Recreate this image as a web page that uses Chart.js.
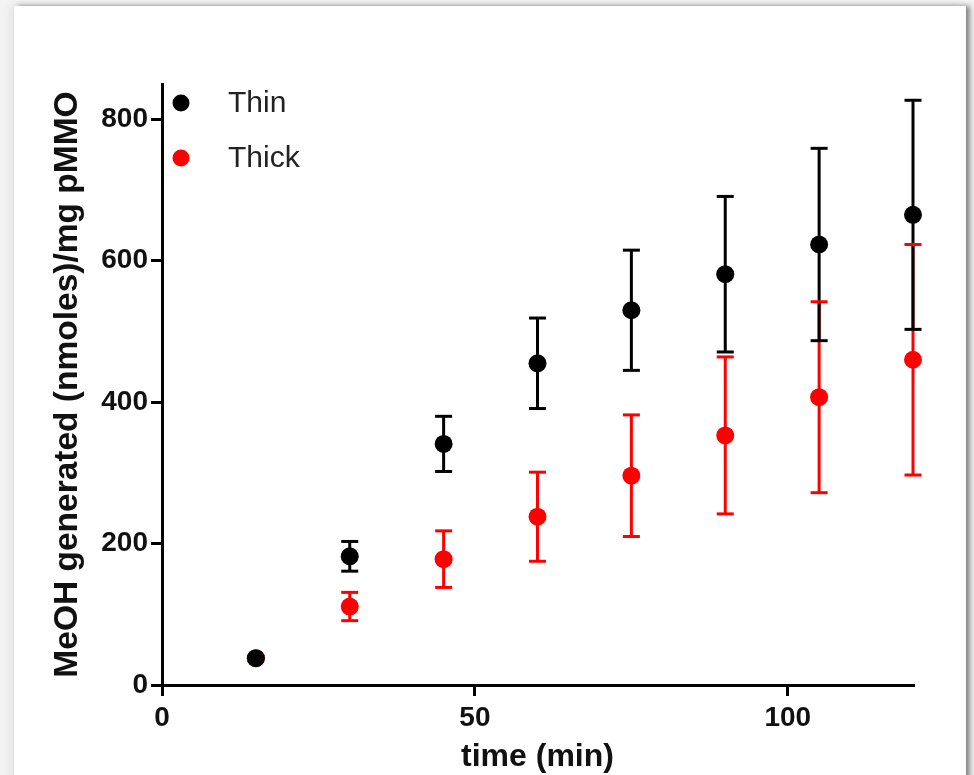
<!DOCTYPE html>
<html><head><meta charset="utf-8">
<script src="https://cdn.jsdelivr.net/npm/chart.js@4.4.1/dist/chart.umd.min.js"></script>
<style>
html,body{margin:0;padding:0;width:974px;height:775px;overflow:hidden;background:#f3f3f3;}
#card{position:absolute;left:14px;top:6px;width:952px;height:800px;background:#fff;box-shadow:4px 0 5px rgba(0,0,0,0.45), -4px -2px 8px rgba(0,0,0,0.06);}
#wrap{position:absolute;left:0;top:0;width:974px;height:775px;}
</style></head><body>
<div id="card"></div>
<div id="wrap"><canvas id="c" width="974" height="775"></canvas></div>
<script>
const times = [15, 30, 45, 60, 75, 90, 105, 120];
const thinMean = [38, 182, 341, 455, 530, 581, 623, 665];
const thinErr = [0, 21, 39, 64, 85, 110, 136, 162];
const thickMean = [38, 111, 178, 238, 296, 353, 407, 460];
const thickErr = [0, 20, 40, 63, 86, 111, 135, 163];
const xTicks = [0, 50, 100];
const yTicks = [0, 200, 400, 600, 800];
const seriesLabels = ['Thin', 'Thick'];
const seriesColors = ['#000000', '#ff0000'];

const FONT = "'Liberation Sans', Arial, sans-serif";

const errorBars = {
  id: 'errorBars',
  beforeDatasetsDraw(chart) {
    const ctx = chart.ctx, xs = chart.scales.x, ys = chart.scales.y;
    const sets = [
      {m: thickMean, e: thickErr, c: seriesColors[1]},
      {m: thinMean, e: thinErr, c: seriesColors[0]}
    ];
    ctx.save();
    ctx.lineWidth = 3;
    ctx.lineCap = 'butt';
    sets.forEach(s => {
      ctx.strokeStyle = s.c;
      times.forEach((t, i) => {
        if (!s.e[i]) return;
        const x = xs.getPixelForValue(t);
        ctx.beginPath();
        ctx.moveTo(x, ys.getPixelForValue(s.m[i] + s.e[i]));
        ctx.lineTo(x, ys.getPixelForValue(s.m[i] - s.e[i]));
        ctx.stroke();
      });
    });
    sets.forEach(s => {
      ctx.strokeStyle = s.c;
      times.forEach((t, i) => {
        if (!s.e[i]) return;
        const x = xs.getPixelForValue(t);
        [s.m[i] + s.e[i], s.m[i] - s.e[i]].forEach(v => {
          const y = ys.getPixelForValue(v);
          ctx.beginPath();
          ctx.moveTo(x - 8.5, y);
          ctx.lineTo(x + 8.5, y);
          ctx.stroke();
        });
      });
    });
    ctx.restore();
  }
};

const legendIn = {
  id: 'legendIn',
  afterDraw(chart) {
    const ctx = chart.ctx, ca = chart.chartArea;
    ctx.save();
    seriesLabels.forEach((lab, i) => {
      const y = ca.top + 19 + i * 55;
      ctx.fillStyle = seriesColors[i];
      ctx.beginPath();
      ctx.arc(ca.left + 19, y, 8.5, 0, Math.PI * 2);
      ctx.fill();
      ctx.fillStyle = '#222';
      ctx.font = "30px " + FONT;
      ctx.textBaseline = 'middle';
      ctx.textAlign = 'left';
      ctx.fillText(lab, ca.left + 66, y + 1);
    });
    ctx.restore();
  }
};

const tickFont = {family: FONT, weight: 'bold', size: 28};

new Chart(document.getElementById('c'), {
  type: 'scatter',
  data: {
    datasets: [
      {label: seriesLabels[0], data: times.map((t, i) => ({x: t, y: thinMean[i]})), clip: false,
       pointRadius: 9, pointBackgroundColor: seriesColors[0], pointBorderWidth: 0, showLine: false},
      {label: seriesLabels[1], data: times.map((t, i) => ({x: t, y: thickMean[i]})), clip: false,
       pointRadius: 9, pointBackgroundColor: seriesColors[1], pointBorderWidth: 0, showLine: false}
    ]
  },
  options: {
    responsive: false,
    animation: false,
    devicePixelRatio: 1,
    layout: {padding: {left: 0, right: 61, top: 84, bottom: 0}},
    plugins: {legend: {display: false}, tooltip: {enabled: false}},
    scales: {
      x: {
        type: 'linear', min: 0, max: 120,
        afterBuildTicks(s) { s.ticks = xTicks.map(v => ({value: v})); },
        afterFit(s) { s.height = 90; },
        grid: {display: true, drawOnChartArea: false, drawTicks: true, tickLength: 11, lineWidth: 3, color: '#000'},
        border: {display: true, color: '#000', width: 3},
        ticks: {color: '#111', font: tickFont, padding: 5, maxRotation: 0, autoSkip: false},
        title: {display: true, text: 'time (min)', color: '#111',
                font: {family: FONT, weight: 'bold', size: 32, lineHeight: 1}, padding: {top: 0, bottom: 2}}
      },
      y: {
        type: 'linear', min: 0, max: 850,
        afterBuildTicks(s) { s.ticks = yTicks.map(v => ({value: v})); },
        afterFit(s) { s.width = 162; },
        grid: {display: true, drawOnChartArea: false, drawTicks: true, tickLength: 11, lineWidth: 3, color: '#000'},
        border: {display: true, color: '#000', width: 3},
        ticks: {color: '#111', font: tickFont, padding: 3, autoSkip: false},
        title: {display: true, text: 'MeOH generated (nmoles)/mg pMMO', color: '#111',
                font: {family: FONT, weight: 'bold', size: 33.5, lineHeight: 1}, padding: {top: 51, bottom: 0}}
      }
    }
  },
  plugins: [errorBars, legendIn]
});
</script>
</body></html>
